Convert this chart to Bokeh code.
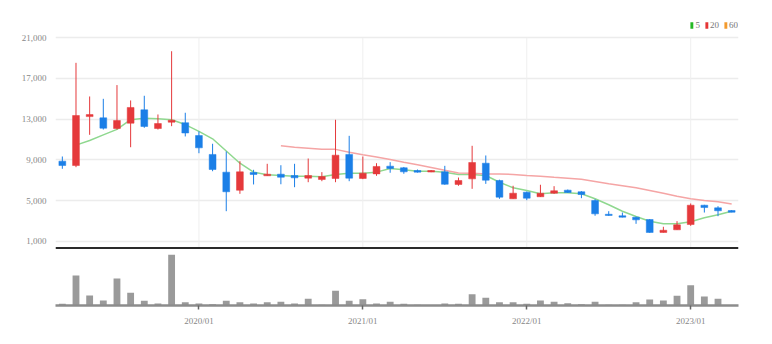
import math
from bokeh.plotting import figure
from bokeh.models import (Range1d, FixedTicker, NumeralTickFormatter, Span,
                          Legend, LegendItem)
from bokeh.embed import file_html
from bokeh.resources import INLINE

NAN = float("nan")

months = ["2019/03", "2019/04", "2019/05", "2019/06", "2019/07", "2019/08", "2019/09",
          "2019/10", "2019/11", "2019/12",
          "2020/01", "2020/02", "2020/03", "2020/04", "2020/05", "2020/06", "2020/07",
          "2020/08", "2020/09", "2020/10", "2020/11", "2020/12",
          "2021/01", "2021/02", "2021/03", "2021/04", "2021/05", "2021/06", "2021/07",
          "2021/08", "2021/09", "2021/10", "2021/11", "2021/12",
          "2022/01", "2022/02", "2022/03", "2022/04", "2022/05", "2022/06", "2022/07",
          "2022/08", "2022/09", "2022/10", "2022/11", "2022/12",
          "2023/01", "2023/02", "2023/03", "2023/04"]

opens = [8870, 8440, 13250, 13130, 12080, 12600, 13920, 12080, 12700, 12650,
         11390, 9530, 7790, 6010, 7760, 7430, 7590, 7460, 7200, 7070, 7170, 9530,
         7170, 7620, 8380, 8220, 7950, 7800, 7820, 6580, 7130, 8670, 6970, 5170,
         5820, 5370, 5720, 6020, 5860, 5000, 3650, 3500, 3360, 3130, 1860, 2120,
         2640, 4540, 4280, 4020]
highs = [9330, 18540, 15230, 15000, 16350, 14840, 15300, 13460, 19680, 13630,
         11790, 10580, 9820, 8870, 8020, 8610, 8470, 8610, 9130, 7790, 12940, 11360,
         9330, 8670, 8770, 8300, 8050, 8000, 8410, 7260, 10380, 9430, 7050, 6450,
         5880, 6550, 6410, 6080, 5920, 5130, 3950, 3820, 3420, 3180, 2420, 2970,
         4710, 4580, 4440, 4050]
lows = [8120, 8280, 11460, 11980, 11980, 10240, 12150, 11980, 12310, 11300,
        9650, 7880, 3950, 5660, 6580, 7430, 6600, 6310, 6800, 6900, 6800, 6900,
        7100, 7430, 7730, 7630, 7750, 7780, 6550, 6450, 6150, 6640, 5170, 5170,
        5030, 5350, 5650, 5750, 5230, 3500, 3500, 3340, 2710, 1830, 1850, 2110,
        2510, 3820, 3460, 3840]
closes = [8440, 13360, 13450, 12110, 12870, 14150, 12280, 12570, 12900, 11640,
          10180, 8050, 5860, 7820, 7560, 7590, 7290, 7230, 7460, 7360, 9460, 7200,
          7690, 8350, 8150, 7820, 7790, 7950, 6600, 6970, 8740, 7000, 5330, 5720,
          5230, 5720, 5960, 5790, 5590, 3690, 3530, 3360, 3100, 1860, 2080, 2610,
          4540, 4310, 3990, 3850]
volumes = [17000, 300000, 100000, 50000, 270000, 127000, 47000, 20000, 507000, 33000,
           20000, 13000, 47000, 33000, 20000, 33000, 37000, 20000, 67000, 7000,
           147000, 47000, 63000, 20000, 37000, 17000, 7000, 0, 20000, 17000,
           113000, 77000, 33000, 33000, 17000, 50000, 37000, 23000, 13000, 37000,
           7000, 7000, 33000, 60000, 50000, 97000, 203000, 90000, 67000, 0]
ma5 = [NAN, 10450, 10900, 11450, 12000, 12950, 13100, 13030, 12940, 12470,
       11800, 11070, 9870, 8670, 7790, 7530, 7460, 7390, 7390, 7330,
       7560, 7690, 7690, 7790, 8150, 8020, 7880, 7880, 7790, 7560,
       7560, 7460, 6800, 6250, 5990, 5660, 5760, 5760, 5660, 5170,
       4580, 3950, 3430, 2970, 2710, 2710, 2910, 3300, 3600, 3950]
ma20 = [NAN] * 16 + [10380, 10240, 10150, 10050,
                     10030, 9750, 9510, 9280, 9030, 8770, 8520, 8250, 7970, 7700,
                     7690, 7620, 7620, 7560, 7460, 7390, 7290, 7200, 7100, 6870,
                     6640, 6450, 6250, 5990, 5720, 5430, 5170, 5000, 4870, 4660]
legend_labels = ["5", "20", "60"]
legend_colors = ["#24b824", "#e53535", "#f39a2c"]
price_ticks = [1000, 5000, 9000, 13000, 17000, 21000]

UP = "#e5393b"
DOWN = "#1b7fe7"
FONT = "Liberation Sans Narrow"
TXT = "#888888"

x = list(range(len(months)))
colors = [UP if c >= o else DOWN for o, c in zip(opens, closes)]
body_top = [max(o, c) for o, c in zip(opens, closes)]
body_bot = [min(o, c) for o, c in zip(opens, closes)]
jan_idx = [i for i, m in enumerate(months) if m.endswith("/01")]

p = figure(width=772, height=344, output_backend="svg", toolbar_location=None,
           x_range=Range1d(-0.5, len(months) - 0.5),
           y_range=Range1d(-5322, 22701),
           min_border_left=55, min_border_right=34,
           min_border_top=20, min_border_bottom=39)
p.outline_line_color = None
p.background_fill_color = "white"
p.border_fill_color = "white"
p.extra_y_ranges = {"vol": Range1d(0, max(volumes) * 285 / 50.7)}

# vertical grid lines only in the price panel
p.segment(x0=jan_idx, y0=[331] * len(jan_idx), x1=jan_idx, y1=[21000] * len(jan_idx),
          line_color="#efefef", line_width=1)

# volume
p.vbar(x=x, top=volumes, width=0.5, y_range_name="vol",
       fill_color="#9a9a9a", line_color=None)

# moving averages
p.line(x, ma5, line_color="#8fd88f", line_width=1.5)
p.line(x, ma20, line_color="#f5a5a5", line_width=1.5)

# candles
p.segment(x0=x, y0=highs, x1=x, y1=lows, line_color=colors, line_width=1)
p.vbar(x=x, top=body_top, bottom=body_bot, width=0.5,
       fill_color=colors, line_color=colors, line_width=0.5)

# separator line under the price panel
p.add_layout(Span(location=331, dimension="width", line_color="#2a2a2a", line_width=2))

# legend (swatch renderers hold no visible data)
dummies = [p.vbar(x=[NAN], top=[NAN], width=0.5, fill_color=c, line_color=None)
           for c in legend_colors]
legend = Legend(items=[LegendItem(label=l, renderers=[r]) for l, r in zip(legend_labels, dummies)],
                location="top_right", orientation="horizontal",
                glyph_width=4, glyph_height=8, label_height=8, label_width=4,
                label_standoff=2, spacing=4, padding=0, margin=0,
                border_line_color=None, background_fill_alpha=0,
                label_text_font_size="9px", label_text_color="#777777",
                label_text_font=FONT)
p.add_layout(legend)

# axes and grid
p.ygrid.ticker = FixedTicker(ticks=price_ticks)
p.ygrid.grid_line_color = "#ececec"
p.ygrid.grid_line_width = 1.5
p.xgrid.grid_line_color = None

p.yaxis.ticker = FixedTicker(ticks=price_ticks)
p.yaxis.formatter = NumeralTickFormatter(format="0,0")
p.yaxis.axis_line_color = None
p.yaxis.major_tick_line_color = None
p.yaxis.minor_tick_line_color = None
p.yaxis.major_label_standoff = 3
p.yaxis.major_label_text_font_size = "9px"
p.yaxis.major_label_text_color = TXT
p.yaxis.major_label_text_font = FONT

p.xaxis.ticker = FixedTicker(ticks=jan_idx)
p.xaxis.major_label_overrides = {i: months[i] for i in jan_idx}
p.xaxis.axis_line_color = "#8c8c8c"
p.xaxis.axis_line_width = 2.5
p.xaxis.major_tick_in = 0
p.xaxis.major_tick_out = 4
p.xaxis.major_tick_line_color = "#666666"
p.xaxis.major_tick_line_width = 1.5
p.xaxis.minor_tick_line_color = None
p.xaxis.major_label_standoff = 6
p.xaxis.major_label_text_font_size = "9px"
p.xaxis.major_label_text_color = TXT
p.xaxis.major_label_text_font = FONT

open("out.html", "w").write(file_html(p, INLINE))
